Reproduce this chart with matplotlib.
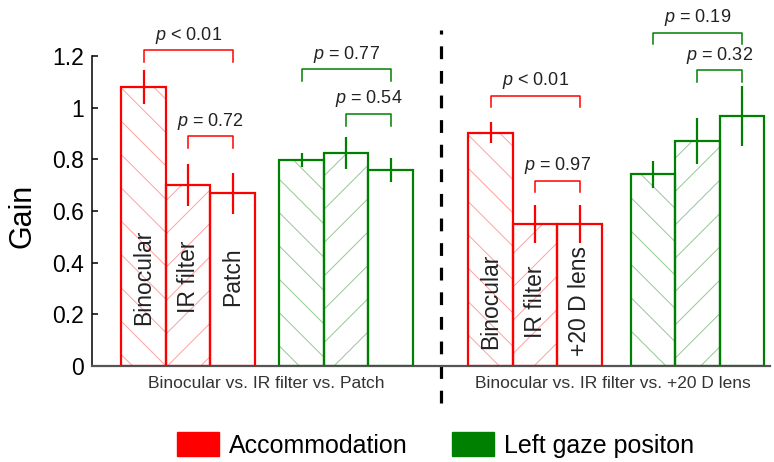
import numpy as np
import matplotlib
matplotlib.use('Agg')
import matplotlib.pyplot as plt
from matplotlib.patches import Patch

plt.rcParams['font.family'] = ['Liberation Sans', 'DejaVu Sans']
plt.rcParams['mathtext.fontset'] = 'custom'
plt.rcParams['mathtext.it'] = 'Liberation Sans:italic'
plt.rcParams['mathtext.rm'] = 'Liberation Sans'
plt.rcParams['hatch.linewidth'] = 0.7

# data
cond_a = ['Binocular', 'IR filter', 'Patch']
cond_b = ['Binocular', 'IR filter', '+20 D lens']
group_labels = ['Binocular vs. IR filter vs. Patch',
                'Binocular vs. IR filter vs. +20 D lens']
series_names = ['Accommodation', 'Left gaze positon']

acc_a = [1.08, 0.70, 0.668]
acc_a_err = [0.065, 0.082, 0.078]
gaze_a = [0.796, 0.826, 0.759]
gaze_a_err = [0.027, 0.062, 0.048]
acc_b = [0.904, 0.55, 0.55]
acc_b_err = [0.039, 0.072, 0.072]
gaze_b = [0.743, 0.872, 0.969]
gaze_b_err = [0.052, 0.09, 0.117]

# p-value labels: (first bar, second bar, text)
p_acc_a = [(0, 2, '< 0.01'), (1, 2, '= 0.72')]
p_gaze_a = [(0, 2, '= 0.77'), (1, 2, '= 0.54')]
p_acc_b = [(0, 2, '< 0.01'), (1, 2, '= 0.97')]
p_gaze_b = [(0, 2, '= 0.19'), (1, 2, '= 0.32')]

RED = '#ff0000'
GREEN = '#008000'
LRED = '#ffa0a0'
LGREEN = '#96c896'
hatches = ['\\', '/', '']

# layout
starts = [0, 3.55, 7.8, 11.45]
sets = [(acc_a, acc_a_err, p_acc_a, RED, LRED, [1.223, 0.89]),
        (gaze_a, gaze_a_err, p_gaze_a, GREEN, LGREEN, [1.148, 0.976]),
        (acc_b, acc_b_err, p_acc_b, RED, LRED, [1.046, 0.717]),
        (gaze_b, gaze_b_err, p_gaze_b, GREEN, LGREEN, [1.291, 1.146])]

fig = plt.figure(figsize=(7.74, 4.62), dpi=100)
ax = fig.add_axes([92/774, 96/462, 678/774, 361.6/462])

for s0, (vals, errs, pvals, col, lcol, blev) in zip(starts, sets):
    xs = s0 + np.arange(3)
    for x, v, h in zip(xs, vals, hatches):
        if h:
            ax.bar(x, v, width=1, color='white', edgecolor=lcol,
                   linewidth=0, hatch=h, zorder=2)
    ax.bar(xs, vals, width=1, fill=False, edgecolor=col, linewidth=1.6,
           zorder=3)
    ax.errorbar(xs, vals, yerr=errs, fmt='none', ecolor=col, elinewidth=1.6,
                capsize=0, zorder=4)
    for (i, j, txt), y in zip(pvals, blev):
        ax.plot([xs[i], xs[i], xs[j], xs[j]], [y - 0.045, y, y, y - 0.045],
                color=col, lw=1.1, zorder=4)
        ax.text((xs[i] + xs[j]) / 2, y + 0.058, '$p$ ' + txt, ha='center',
                va='center', fontsize=13, color='#222222')

label_y = [0.345, 0.25]
for s0, names, ly in zip([starts[0], starts[2]], [cond_a, cond_b], label_y):
    for k, name in enumerate(names):
        ax.text(s0 + k, ly, name, rotation=90, ha='center', va='center',
                fontsize=16.5, color='#222222', zorder=5)

for s0, lab in zip([starts[0], starts[2]], group_labels):
    ax.text(s0 + 2.75, -0.066, lab, ha='center', va='center', fontsize=12.5,
            color='#333333')

ax.plot([6.68, 6.68], [-0.145, 1.3], color='black', lw=2.3,
        dashes=(4, 3.7), clip_on=False)

ax.set_xlim(-1.16, 14.08)
ax.set_ylim(0, 1.4)
yt = np.arange(0, 1.21, 0.2)
ax.set_yticks(yt)
ax.set_yticklabels(['%g' % round(t, 1) for t in yt], fontsize=16.5)
ax.set_xticks([])
ax.tick_params(axis='y', direction='in', length=4, width=1.1, pad=6)
ax.spines['top'].set_visible(False)
ax.spines['right'].set_visible(False)
ax.spines['left'].set_bounds(0, 1.2)
ax.spines['left'].set_linewidth(1.1)
ax.spines['bottom'].set_linewidth(1.6)
ax.spines['bottom'].set_color('#555555')
ax.set_ylabel('Gain', fontsize=22)
ax.yaxis.set_label_coords(-0.081, 0.414)

handles = [Patch(facecolor=RED, edgecolor=RED), Patch(facecolor=GREEN, edgecolor=GREEN)]
fig.legend(handles, series_names, loc='center', bbox_to_anchor=(0.563, 0.037),
           ncol=2, frameon=False, fontsize=18, handlelength=1.68,
           handleheight=1.1, columnspacing=1.76, handletextpad=0.4)

fig.savefig('out.png', dpi=100)
